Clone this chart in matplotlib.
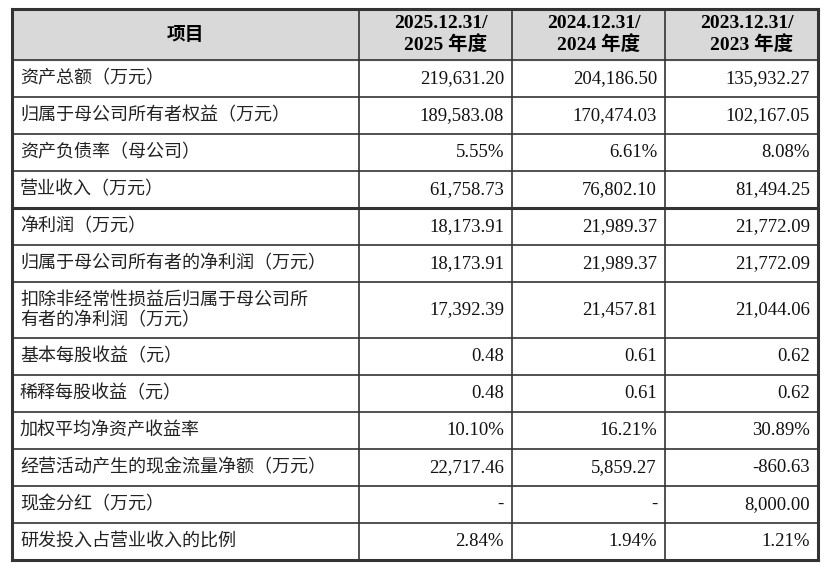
import matplotlib.pyplot as plt

items = ['资产总额（万元）', '归属于母公司所有者权益（万元）', '资产负债率（母公司）', '营业收入（万元）',
         '净利润（万元）', '归属于母公司所有者的净利润（万元）', '扣除非经常性损益后归属于母公司所\n有者的净利润（万元）',
         '基本每股收益（元）', '稀释每股收益（元）', '加权平均净资产收益率',
         '经营活动产生的现金流量净额（万元）', '现金分红（万元）', '研发投入占营业收入的比例']
headers = ['2025.12.31/\n2025 年度', '2024.12.31/\n2024 年度', '2023.12.31/\n2023 年度']
v2025 = ['219,631.20', '189,583.08', '5.55%', '61,758.73', '18,173.91', '18,173.91', '17,392.39',
         '0.48', '0.48', '10.10%', '22,717.46', '-', '2.84%']
v2024 = ['204,186.50', '170,474.03', '6.61%', '76,802.10', '21,989.37', '21,989.37', '21,457.81',
         '0.61', '0.61', '16.21%', '5,859.27', '-', '1.94%']
v2023 = ['135,932.27', '102,167.05', '8.08%', '81,494.25', '21,772.09', '21,772.09', '21,044.06',
         '0.62', '0.62', '30.89%', '-860.63', '8,000.00', '1.21%']

cjk = ['Noto Sans CJK SC', 'DejaVu Sans']
serif = ['Liberation Serif', 'Noto Sans CJK SC']

fig = plt.figure(figsize=(8.31, 5.77), dpi=100)
ax = fig.add_axes([0, 0, 1, 1])
ax.set_xlim(0, 831)
ax.set_ylim(577, 0)
ax.axis('off')

xs = [12, 359, 512, 665, 818]
row_h = [37] * len(items)
row_h[6] = 56
ys = [9, 60]
for h in row_h:
    ys.append(ys[-1] + h)

ax.add_patch(plt.Rectangle((xs[0], ys[0]), xs[-1] - xs[0], ys[1] - ys[0], color='#d9d9d9', zorder=0))
ax.text((xs[0] + xs[1]) / 2, (ys[0] + ys[1]) / 2, '项目', ha='center', va='center',
        fontsize=13.5, fontweight='bold', family=cjk)
for j, h in enumerate(headers):
    ax.text((xs[j + 1] + xs[j + 2]) / 2 + 5, (ys[0] + ys[1]) / 2, h, ha='center', va='center',
            fontsize=14, fontweight='bold', family=serif, linespacing=1.25, multialignment='right')

cols = [v2025, v2024, v2023]
for i, name in enumerate(items):
    yc = (ys[i + 1] + ys[i + 2]) / 2
    ax.text(xs[0] + 8, yc, name, ha='left', va='center', fontsize=13, family=cjk,
            color='#222222', linespacing=1.2)
    for j, col in enumerate(cols):
        ax.text(xs[j + 2] - 8, yc, col[i], ha='right', va='center', fontsize=13.5,
                family=serif, color='#111111')

for k, y in enumerate(ys):
    lw = 2.2 if k in (0, len(ys) - 1, 5) else 1.2
    ax.plot([xs[0], xs[-1]], [y, y], color='#333333', lw=lw)
for k, x in enumerate(xs):
    lw = 2.2 if k in (0, len(xs) - 1) else 1.2
    ax.plot([x, x], [ys[0], ys[-1]], color='#333333', lw=lw)

fig.savefig('out.png', dpi=100)
